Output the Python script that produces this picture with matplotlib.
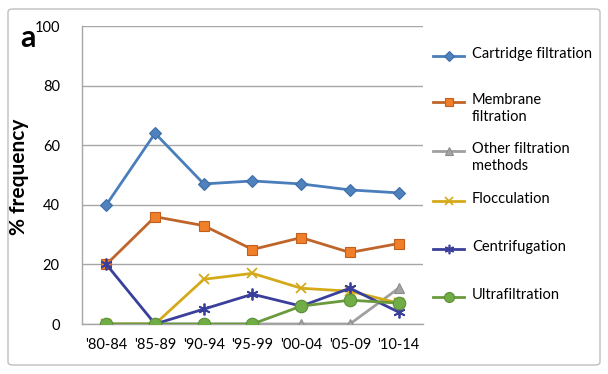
import matplotlib

matplotlib.use("Agg")
import matplotlib.pyplot as plt
from matplotlib.lines import Line2D
from matplotlib.patches import FancyBboxPatch

plt.rcParams["font.family"] = ["Lato", "DejaVu Sans"]

periods = ["'80-84", "'85-89", "'90-94", "'95-99", "'00-04", "'05-09", "'10-14"]
cartridge = [40, 64, 47, 48, 47, 45, 44]
membrane = [20, 36, 33, 25, 29, 24, 27]
other = [0, 0, 0, 0, 0, 0, 12]
flocculation = [0, 0, 15, 17, 12, 11, 7]
centrifugation = [20, 0, 5, 10, 6, 12, 4]
ultrafiltration = [0, 0, 0, 0, 6, 8, 7]

series = [
    ("Cartridge filtration", cartridge, "#4A7EBB", "D", "#4F81BD", "#3E6DA8", 6.5),
    ("Membrane\nfiltration", membrane, "#C0652A", "s", "#F07F2A", "#C05F1E", 7.5),
    ("Other filtration\nmethods", other, "#A0A0A0", "^", "#A5A5A5", "#8C8C8C", 7.5),
    ("Flocculation", flocculation, "#D4AA1A", "x", "#D4AA1A", "#D4AA1A", 7),
    ("Centrifugation", centrifugation, "#3B3F9C", (6, 2, 0), "#3B3F9C", "#3B3F9C", 8.5),
    ("Ultrafiltration", ultrafiltration, "#6A9A3C", "o", "#70AD47", "#5C8F38", 9),
]

W, H = 608, 374
fig = plt.figure(figsize=(W / 100, H / 100), dpi=100)
ax = fig.add_axes([82 / W, 1 - 324 / H, (423 - 82) / W, (324 - 26) / H])

x = list(range(len(periods)))
for label, vals, lc, mk, mfc, mec, ms in series:
    ax.plot(x, vals, color=lc, lw=2, marker=mk, ms=ms, mfc=mfc, mec=mec,
            mew=1.3 if mk in ("x", (6, 2, 0)) else 0.8, zorder=3)

ax.set_xlim(-0.5, len(periods) - 0.5)
ax.set_ylim(0, 100)
ax.set_yticks([0, 20, 40, 60, 80, 100])
ax.set_xticks(x)
ax.set_xticklabels(periods)
ax.grid(axis="y", color="#A6A6A6", lw=1)
ax.set_axisbelow(True)
ax.tick_params(length=0, labelsize=10.5, colors="black")
ax.tick_params(axis="y", pad=16)
ax.tick_params(axis="x", pad=10)
for s in ("top", "right"):
    ax.spines[s].set_visible(False)
for s in ("left", "bottom"):
    ax.spines[s].set_color("#A6A6A6")
    ax.spines[s].set_linewidth(1)
ax.set_ylabel("% frequency", fontsize=15, fontweight="bold")
ax.yaxis.set_label_coords((29 - 82) / (423 - 82), (324 - 177) / (324 - 26))

fig.text(28 / W, 1 - 38 / H, "a", fontsize=22, fontweight="bold", ha="center", va="center")

# legend drawn by hand so the wrapped labels sit like the original
leg_y = [56, 102, 151, 201, 249, 297]
for (label, vals, lc, mk, mfc, mec, ms), yy in zip(series, leg_y):
    yf = 1 - yy / H
    fig.add_artist(Line2D([433 / W, 464 / W], [yf, yf], color=lc, lw=2,
                          transform=fig.transFigure))
    fig.add_artist(Line2D([448.5 / W], [yf], marker=mk, ms=ms * 0.8, mfc=mfc, mec=mec,
                          mew=1.2 if mk in ("x", (6, 2, 0)) else 0.8, color=lc,
                          transform=fig.transFigure))
    fig.text(472 / W, 1 - (yy - 9) / H, label, fontsize=10.5, ha="left", va="top",
             linespacing=1.3)

fig.add_artist(FancyBboxPatch((8 / W, 1 - 365 / H), (600 - 8) / W, (365 - 9) / H,
                              boxstyle="round,pad=0,rounding_size=0.008",
                              transform=fig.transFigure, fill=False,
                              ec="#BFBFBF", lw=1))

fig.savefig("out.png", dpi=100)
